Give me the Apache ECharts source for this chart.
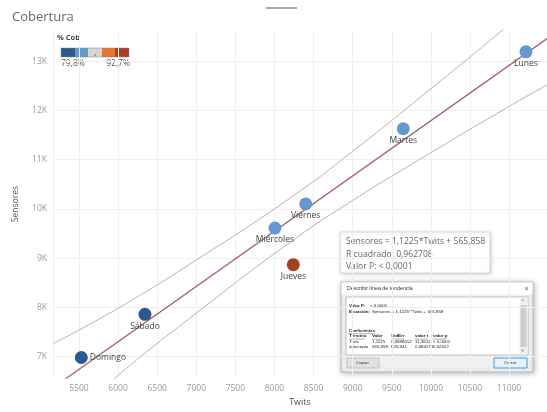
<!DOCTYPE html>
<html><head><meta charset="utf-8">
<script src="https://cdn.jsdelivr.net/npm/echarts@6/dist/echarts.min.js"></script>
<style>html,body{margin:0;padding:0;background:#fff}#c{width:547px;height:412px}</style>
</head><body><div id="c"></div>
<script>
// ---- data ----
const days = ['Lunes','Martes','Miércoles','Jueves','Viernes','Sábado','Domingo'];
const twits = [11216, 9647, 8006, 8241, 8399, 6344, 5530];
const sensores = [13189, 11627, 9610, 8866, 10100, 7857, 6980];
const cob = [84.5, 84.0, 83.8, 92.7, 84.2, 80.6, 79.8];
const cobMin = 79.8, cobMax = 92.7;
const cobColors = ['#2a5b8c', '#6498cf', '#d6d4cc', '#e8742c', '#a83f1d'];
const xTicks = [5500,6000,6500,7000,7500,8000,8500,9000,9500,10000,10500,11000];
const yTicks = [7000,8000,9000,10000,11000,12000,13000];
const slope = 1.1225, intercept = 565.858;
const trendX = [5168, 11485];
const bandX = [5168, 6000, 7000, 8200, 9000, 10000, 11000, 11485];
const bandUpper = [7260, 7980, 8960, 10220, 11170, 12440, 13740, 14400];
const bandLower = [5460, 6620, 7880, 9320, 10170, 11140, 12080, 12520];

const FONT = 'Open Sans';
const step = (cobMax - cobMin) / cobColors.length;
const pieces = cobColors.map((c, i) => ({min: cobMin + i*step, max: cobMin + (i+1)*step + (i===cobColors.length-1?0.01:0), color: c}));
const points = days.map((d, i) => [twits[i], sensores[i], cob[i], d]);
const dIdx = days.indexOf('Domingo');
const pointData = points.map((p, i) => i === dIdx ? {value: p, label: {position: 'right', distance: 2}} : {value: p});

const chart = echarts.init(document.getElementById('c'), null, {renderer: 'canvas'});

const swX = 61, swY = 48, swW = 13.6, swH = 9;
const legendEls = [
  {type:'text', left: 57, top: 34, style:{text:'% Cob', font:'bold 7.5px '+FONT, fill:'#444'}},
  {type:'text', left: 61, top: 59, style:{text: cobMin.toFixed(1).replace('.',',')+'%', font:'8.5px '+FONT, fill:'#555'}},
  {type:'text', right: 547-130, top: 59, style:{text: cobMax.toFixed(1).replace('.',',')+'%', font:'8.5px '+FONT, fill:'#555', align:'right'}}
];
cobColors.forEach((c, i) => legendEls.push({type:'rect', shape:{x: Math.round(swX + i*swW), y: swY, width: Math.round(swX + (i+1)*swW) - Math.round(swX + i*swW), height: swH}, style:{fill:c}}));
legendEls.push({type:'rect', shape:{x: swX, y: swY, width: Math.round(swW*5), height: swH}, style:{fill:'none', stroke:'#8a8a8a', lineWidth:0.5}});
legendEls.push({type:'circle', shape:{cx: swX + 2.5*swW, cy: swY + swH - 2, r: 0.7}, style:{fill:'#555'}});

const dlg = [];
const dX = 341, dY = 282, dW = 192, dH = 90;
dlg.push({type:'rect', shape:{x:dX, y:dY, width:dW, height:dH}, style:{fill:'#f0f0f0', stroke:'#9fb3cc', lineWidth:0.8, shadowBlur:6, shadowColor:'rgba(0,0,0,0.3)', shadowOffsetX:1, shadowOffsetY:1}});
dlg.push({type:'rect', shape:{x:dX+0.5, y:dY+0.5, width:dW-1, height:12}, style:{fill:'#ffffff'}});
dlg.push({type:'text', x: 347, y: 286.5, style:{text:'Describir línea de tendencia', font:'5.3px Liberation Sans', fill:'#333'}});
dlg.push({type:'text', x: 524.5, y: 285.5, style:{text:'×', font:'7px Liberation Sans', fill:'#555'}});
dlg.push({type:'rect', shape:{x:346, y:297, width:182, height:58}, style:{fill:'#fff', stroke:'#9a9a9a', lineWidth:0.6}});
dlg.push({type:'rect', shape:{x:519.5, y:297.5, width:8, height:57}, style:{fill:'#f0f0f0'}});
dlg.push({type:'rect', shape:{x:520.5, y:305, width:6, height:42}, style:{fill:'#cdcdcd'}});
dlg.push({type:'text', x: 521.5, y: 299, style:{text:'^', font:'5px Liberation Sans', fill:'#666'}});
dlg.push({type:'text', x: 521.5, y: 348.5, style:{text:'v', font:'4.5px Liberation Sans', fill:'#666'}});
const tf = '4.4px Liberation Sans', tfb = 'bold 4.4px Liberation Sans';
const T = (x, y, s, b) => dlg.push({type:'text', x, y, style:{text:s, font: b?tfb:tf, fill:'#222'}});
T(349, 303.5, 'Valor P:', true); T(370, 303.5, '< 0,0001');
T(349, 309.5, 'Ecuación:', true); T(372, 309.5, 'Sensores = 1,1225**Twits + 565,858');
T(349, 328.5, 'Coeficientes', true);
const cols = [349, 372, 391, 415, 433];
['Término','Valor','StdErr','valor t','valor p'].forEach((h, i) => T(cols[i], 334, h, true));
['Twits','1,1225','0,0988012','11,3612','< 0,0001'].forEach((h, i) => T(cols[i], 339.5, h));
['intercepto','565,858','826,941','0,684278','0,52422'].forEach((h, i) => T(cols[i], 345, h));
[[349,333.6],[349,339.1],[372,339.1],[391,339.1],[415,339.1],[433,339.1]].forEach((p, i) => {
  const w = [25, 16, 10, 13, 13, 14][i];
  dlg.push({type:'line', shape:{x1:p[0], y1:p[1], x2:p[0]+w, y2:p[1]}, style:{stroke:'#222', lineWidth:0.35}});
});
dlg.push({type:'rect', shape:{x:347, y:358, width:32, height:10}, style:{fill:'#e1e1e1', stroke:'#adadad', lineWidth:0.6}});
dlg.push({type:'text', x: 356, y: 361, style:{text:'Copiar', font:tf, fill:'#333'}});
dlg.push({type:'rect', shape:{x:494, y:358, width:33, height:10}, style:{fill:'#e5f1fb', stroke:'#0078d7', lineWidth:0.7}});
dlg.push({type:'text', x: 504, y: 361, style:{text:'Cerrar', font:tf, fill:'#333'}});

const annot = [
  {type:'rect', shape:{x:340, y:232, width:150, height:41}, style:{fill:'#fff', stroke:'#d0d0d0', lineWidth:0.8, shadowBlur:4, shadowColor:'rgba(0,0,0,0.18)', shadowOffsetX:1, shadowOffsetY:1}},
  {type:'text', x:346, y:237, style:{text:'Sensores = ' + String(slope).replace('.',',') + '*Twits + ' + String(intercept).replace('.',','), font:'8.6px '+FONT, fill:'#666'}},
  {type:'text', x:346, y:250, style:{text:'R cuadrado: 0,962708', font:'8.6px '+FONT, fill:'#666'}},
  {type:'text', x:346, y:262, style:{text:'Valor P: < 0,0001', font:'8.6px '+FONT, fill:'#666'}}
];

const bandStyle = {color:'#cfa6aa', width:1};
chart.setOption({
  animation: false,
  textStyle: {fontFamily: FONT},
  title: {text: 'Cobertura', left: 7, top: 6, textStyle: {fontSize: 13, fontWeight: 'normal', color: '#666', fontFamily: FONT}},
  grid: {left: 53, right: 0, top: 30, bottom: 27},
  xAxis: {
    type: 'value', min: trendX[0], max: trendX[1],
    name: 'Twits', nameLocation: 'middle', nameGap: 19,
    nameTextStyle: {fontSize: 9, color: '#555'},
    axisLine: {show: false}, axisTick: {show: false, customValues: xTicks},
    axisLabel: {customValues: xTicks, fontSize: 8.5, color: '#9a9a9a', margin: 6, formatter: v => String(v)},
    splitLine: {show: true, lineStyle: {color: '#efefef', width: 1}}
  },
  yAxis: {
    type: 'value', min: 6562, max: 13633,
    name: 'Sensores', nameLocation: 'middle', nameGap: 33, nameRotate: 90,
    nameTextStyle: {fontSize: 8.5, color: '#555'},
    axisLine: {show: true, lineStyle: {color: '#ededed'}}, axisTick: {show: false, customValues: yTicks},
    axisLabel: {customValues: yTicks, fontSize: 8.5, color: '#9a9a9a', margin: 6, formatter: v => (v/1000) + 'K'},
    splitLine: {show: true, lineStyle: {color: '#efefef', width: 1}}
  },
  visualMap: {type: 'piecewise', show: false, dimension: 2, seriesIndex: 0, pieces: pieces},
  series: [
    {
      type: 'scatter', data: pointData, symbolSize: 13, z: 5,
      itemStyle: {opacity: 1},
      label: {
        show: true, formatter: p => p.value[3], position: 'bottom', distance: 1,
        fontSize: 8.5, color: '#444', fontFamily: FONT
      },
      emphasis: {disabled: true}
    },
    {type: 'line', data: trendX.map(x => [x, slope*x + intercept]), symbol: 'none', lineStyle: {color: '#a5636a', width: 1.3}, z: 3, silent: true},
    {type: 'line', data: bandX.map((x, i) => [x, bandUpper[i]]), smooth: true, symbol: 'none', lineStyle: bandStyle, z: 3, silent: true},
    {type: 'line', data: bandX.map((x, i) => [x, bandLower[i]]), smooth: true, symbol: 'none', lineStyle: bandStyle, z: 3, silent: true}
  ],
  graphic: [
    {type:'line', shape:{x1:266, y1:8, x2:297, y2:8}, style:{stroke:'#555', lineWidth:1}},
    ...legendEls, ...annot, ...dlg
  ]
});
</script></body></html>
